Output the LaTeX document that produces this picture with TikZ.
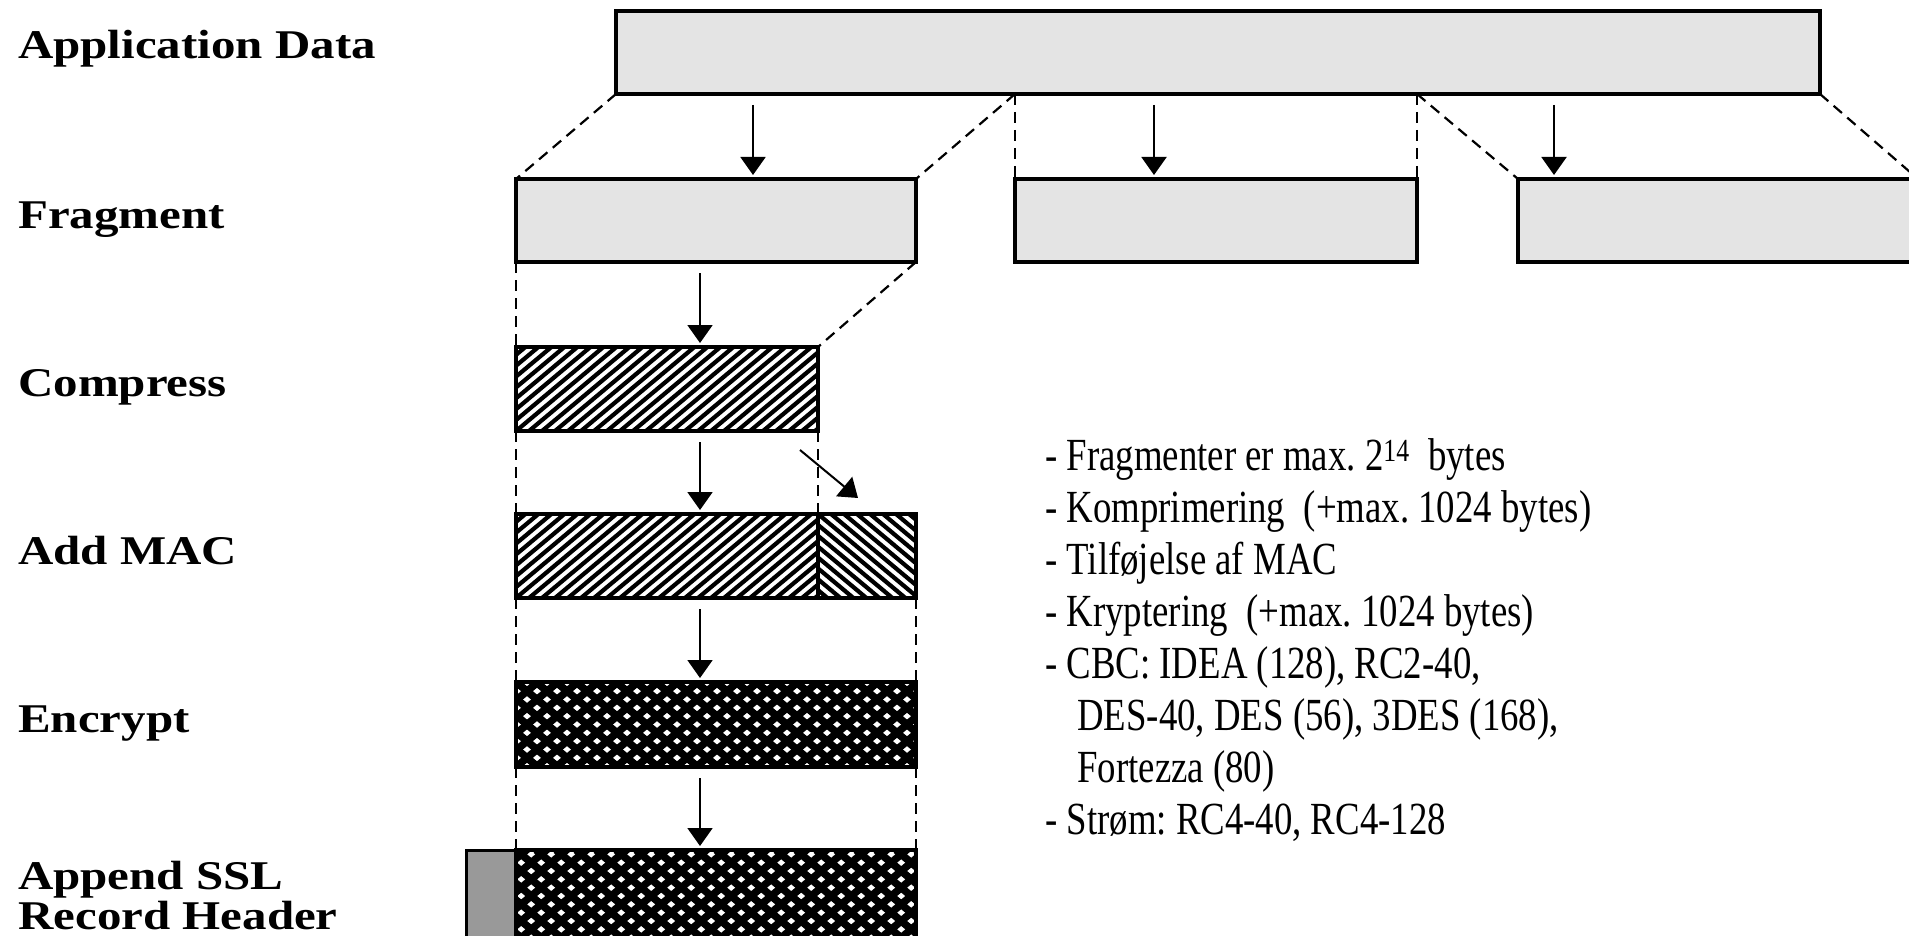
\documentclass[tikz,border=0pt]{standalone}
\usepackage{fontspec}
\usepackage{tikz}
\usetikzlibrary{arrows.meta,calc}
\setmainfont{Liberation Serif}
\newfontfamily\labelfont[FakeStretch=1.2]{Liberation Serif}
\newfontfamily\notefont[FakeStretch=0.8]{Liberation Serif}
\definecolor{datagray}{HTML}{E4E4E4}
\definecolor{headgray}{HTML}{999999}
\tikzset{
  recbox/.style    = {draw,line width=3.5pt,inner sep=0pt,outer sep=0pt,anchor=north west},
  databox/.style   = {recbox,fill=datagray},
  headbox/.style   = {recbox,line width=3pt,fill=headgray},
  rising/.style    = {recbox,fill=white,path picture={
      \foreach \k in {-10,...,35}
        \draw[line width=4.2pt] ([xshift=\k*13pt]path picture bounding box.south west) -- ++(110,-92);}},
  falling/.style   = {recbox,fill=white,path picture={
      \foreach \k in {-10,...,35}
        \draw[line width=4.2pt] ([xshift=\k*13pt]path picture bounding box.north west) -- ++(110,92);}},
  crossed/.style   = {recbox,fill=white,path picture={
      \foreach \k in {-6,...,25}{
        \draw[line width=7.5pt] ([xshift=\k*20pt]path picture bounding box.south west) -- ++(120,-100);
        \draw[line width=7.5pt] ([xshift=\k*20pt]path picture bounding box.north west) -- ++(120,100);}}},
  guide/.style     = {line width=2.2pt,dash pattern=on 11pt off 7pt},
  flowarr/.style   = {-{Triangle[length=18pt,width=25pt]},line width=2pt,
                      shorten <=11pt,shorten >=4pt},
  steplabel/.style = {anchor=base west,inner sep=0pt,align=left,
                      font=\labelfont\bfseries\fontsize{40.8}{37}\selectfont},
  notetext/.style  = {anchor=north west,inner sep=0pt,align=left,
                      font=\notefont\fontsize{46}{52}\selectfont\frenchspacing}
}

\begin{document}
\begin{tikzpicture}[x=1pt,y=-1pt]
  \useasboundingbox (0,0) rectangle (1909,936);
  \fill[white] (0,0) rectangle (1909,936);
  % the record rows
  \node[databox,minimum width=1204pt,minimum height=83pt] (app)   at (616,11)  {};
  \node[databox,minimum width=400pt,minimum height=83pt]  (frag1) at (516,179) {};
  \node[databox,minimum width=402pt,minimum height=83pt]  (frag2) at (1015,179) {};
  \node[databox,minimum width=400pt,minimum height=83pt]  (frag3) at (1518,179) {};
  \node[rising,minimum width=302pt,minimum height=84pt]   (comp)  at (516,347) {};
  \node[rising,minimum width=302pt,minimum height=84pt]   (macdata) at (516,514) {};
  \node[falling,minimum width=98pt,minimum height=84pt]   (mactag)  at (818,514) {};
  \node[crossed,minimum width=400pt,minimum height=85pt]  (enc)   at (516,682) {};
  \node[headbox,minimum width=50pt,minimum height=92pt]   (hdr)   at (466,850) {};
  \node[crossed,minimum width=400pt,minimum height=92pt]  (rec)   at (516,850) {};

  % where the data is cut into fragments
  \coordinate (cut1) at (app.south west -| frag2.north west);
  \coordinate (cut2) at (app.south west -| frag2.north east);
  \draw[guide] (app.south west) -- (frag1.north west);
  \draw[guide] (cut1) -- (frag1.north east);
  \draw[guide] (cut1) -- (frag2.north west);
  \draw[guide] (cut2) -- (frag2.north east);
  \draw[guide] (cut2) -- (frag3.north west);
  \draw[guide] (app.south east) -- (frag3.north east);
  \draw[guide] (frag1.south west) -- (comp.north west);
  \draw[guide] (frag1.south east) -- (comp.north east);
  \draw[guide] (comp.south west) -- (macdata.north west);
  \draw[guide] (comp.south east) -- (mactag.north west);
  \draw[guide] (macdata.south west) -- (enc.north west);
  \draw[guide] (mactag.south east) -- (enc.north east);
  \draw[guide] (enc.south west) -- (rec.north west);
  \draw[guide] (enc.south east) -- (rec.north east);

  \foreach \x/\to in {753/frag1,1154/frag2,1554/frag3}
    \draw[flowarr] (\x,0 |- app.south) -- (\x,0 |- \to.north);
  \foreach \from/\to in {frag1/comp,comp/macdata,macdata/enc,enc/rec}
    \draw[flowarr] (700,0 |- \from.south) -- (700,0 |- \to.north);
  \coordinate (macsrc) at (800,450);
  \coordinate (macdst) at (858,498);
  \draw[flowarr,shorten <=0pt,shorten >=0pt] (macsrc) -- (macdst);

  \node[steplabel] (lapp)  at (18,59)  {Application Data};
  \node[steplabel] (lfrag) at (18,229) {Fragment};
  \node[steplabel] (lcomp) at (18,396) {Compress};
  \node[steplabel] (lmac)  at (18,564) {Add MAC};
  \node[steplabel] (lenc)  at (18,732) {Encrypt};
  \node[steplabel,anchor=north west] (lhdr) at (18,861)
    {\strut Append SSL\\Record Header};

  \node[notetext] (notes) at (1045,433.6) {\strut- Fragmenter er max. 2\textsuperscript{14}~~bytes\\
    - Komprimering~~(+max. 1024 bytes)\\
    - Tilføjelse af MAC\\
    - Kryptering~~(+max. 1024 bytes)\\
    - CBC: IDEA (128), RC2-40,\\
    \hspace*{0.7em}DES-40, DES (56), 3DES (168),\\
    \hspace*{0.7em}Fortezza (80)\\
    - Strøm: RC4-40, RC4-128};
\end{tikzpicture}
\end{document}
